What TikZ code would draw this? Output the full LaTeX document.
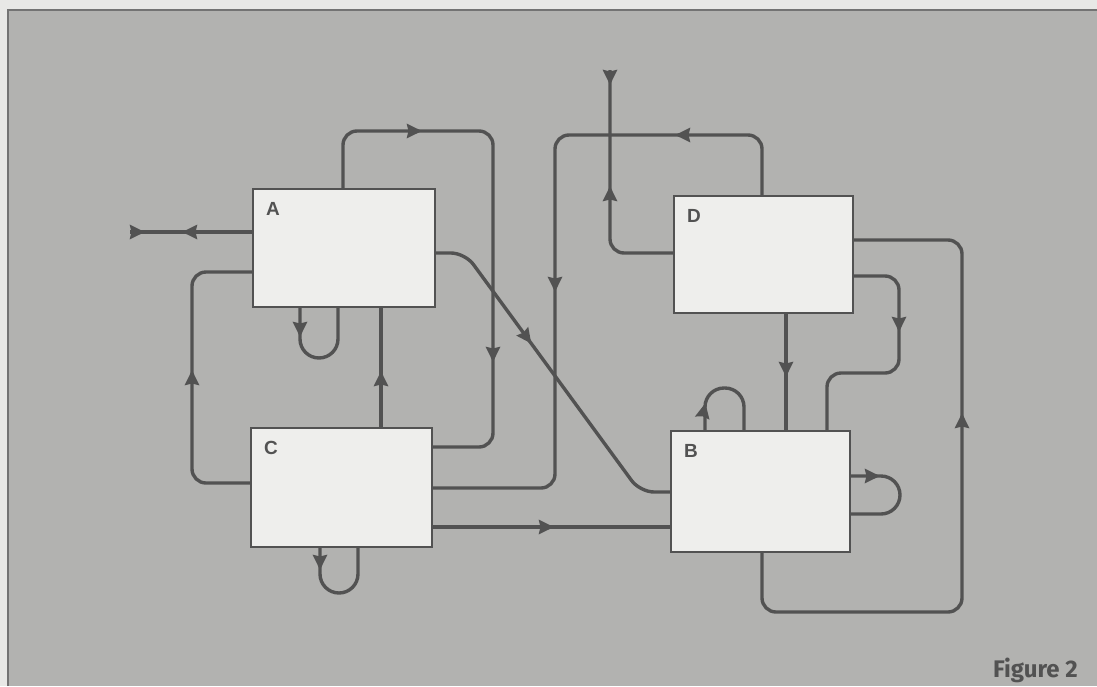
\documentclass[tikz,border=0pt]{standalone}
\usepackage{fontspec}
\newfontfamily\boxfont{Liberation Sans}
\newfontfamily\capfont{Fira Sans}
\usetikzlibrary{arrows.meta,decorations.markings}
\definecolor{bgC}{RGB}{178,178,176}
\definecolor{outerC}{RGB}{232,232,230}
\definecolor{frameC}{RGB}{115,115,115}
\definecolor{lineC}{RGB}{82,82,82}
\definecolor{boxC}{RGB}{238,238,236}
\tikzset{
  tipA/.tip={Stealth[length=15pt,width=14pt,inset=1.5pt]},
  conn/.style={draw=lineC, line width=3.4pt, rounded corners=14pt},
  loopc/.style={draw=lineC, line width=3.4pt, rounded corners=19pt},
  mk/.style={postaction={decorate,decoration={markings,mark=at position #1 with {\arrow{tipA}}}}},
  mkr/.style={postaction={decorate,decoration={markings,mark=at position #1 with {\arrowreversed{tipA}}}}},
  box/.style={draw=lineC, line width=2.8pt, fill=boxC, anchor=north west, inner sep=0pt, outer sep=0pt},
  lbl/.style={anchor=north west, inner sep=0pt, xshift=13pt, yshift=-13pt, text=lineC, font=\boxfont\bfseries\fontsize{19}{19}\selectfont}
}
\begin{document}
\begin{tikzpicture}[x=1pt,y=-1pt]
\useasboundingbox (0,0) rectangle (1097,686);
\fill[outerC] (0,0) rectangle (1097,686);
\fill[bgC] (8,10) rectangle (1097,686);
\draw[frameC, line width=2pt] (8,686) -- (8,10) -- (1097,10);

% boxes
\node[box, minimum width=182pt, minimum height=118pt, label={[lbl]north west:A}] (A) at (253,189) {};
\node[box, minimum width=181pt, minimum height=119pt, label={[lbl]north west:C}] (C) at (251,428) {};
\node[box, minimum width=179pt, minimum height=117pt, label={[lbl]north west:D}] (D) at (674,196) {};
\node[box, minimum width=179pt, minimum height=121pt, label={[lbl]north west:B}] (B) at (671,431) {};

\coordinate (outA) at (130,232);
\coordinate (outD) at (610,70);

% A outputs
\draw[conn, mk=71pt, mkr=108pt] (A.west |- 0,232) -- (outA);
\draw[loopc, mk=30pt] (A.south -| 300,0) -- (300,358) -- (338,358) -- (A.south -| 338,0);
\draw[conn, mk=131pt, mk=427pt] (A.north -| 343,0) -- (343,131) -- (493,131) -- (493,447) -- (C.east |- 0,447);
\draw[conn, mk=140pt] (A.east |- 0,253) -- (465,253) -- (640,492) -- (B.west |- 0,492);

% C outputs
\draw[conn, mk=57pt] (C.north -| 381,0) -- (A.south -| 381,0);
\draw[conn, mk=166pt] (C.west |- 0,483) -- (192,483) -- (192,272) -- (A.west |- 0,272);
\draw[conn, mk=122pt] (C.east |- 0,527) -- (B.west |- 0,527);
\draw[loopc, mk=23pt] (C.south -| 320,0) -- (320,593) -- (358,593) -- (C.south -| 358,0);

% D outputs
\draw[conn, mk=142pt, mk=413pt] (D.north -| 762,0) -- (762,135) -- (555,135) -- (555,488) -- (C.east |- 0,488);
\draw[conn, mk=125pt, mkr=226pt] (D.west |- 0,253) -- (610,253) -- (outD);
\draw[conn, mk=96pt] (D.east |- 0,276) -- (899,276) -- (899,373) -- (827,373) -- (B.north -| 827,0);
\draw[conn, mk=64pt] (D.south -| 786,0) -- (B.north -| 786,0);

% B outputs
\draw[conn, mk=447pt] (B.south -| 762,0) -- (762,612) -- (962,612) -- (962,240) -- (D.east |- 0,240);
\draw[loopc, mk=28pt] (B.north -| 705,0) -- (705,388) -- (744,388) -- (B.north -| 744,0);
\draw[loopc, mk=30pt] (B.east |- 0,476) -- (900,476) -- (900,514) -- (B.east |- 0,514);

\node[anchor=base east, inner sep=0pt, text=lineC, font=\capfont\bfseries\fontsize{24}{24}\selectfont] (fig) at (1078,677) {Figure 2};
\end{tikzpicture}
\end{document}
